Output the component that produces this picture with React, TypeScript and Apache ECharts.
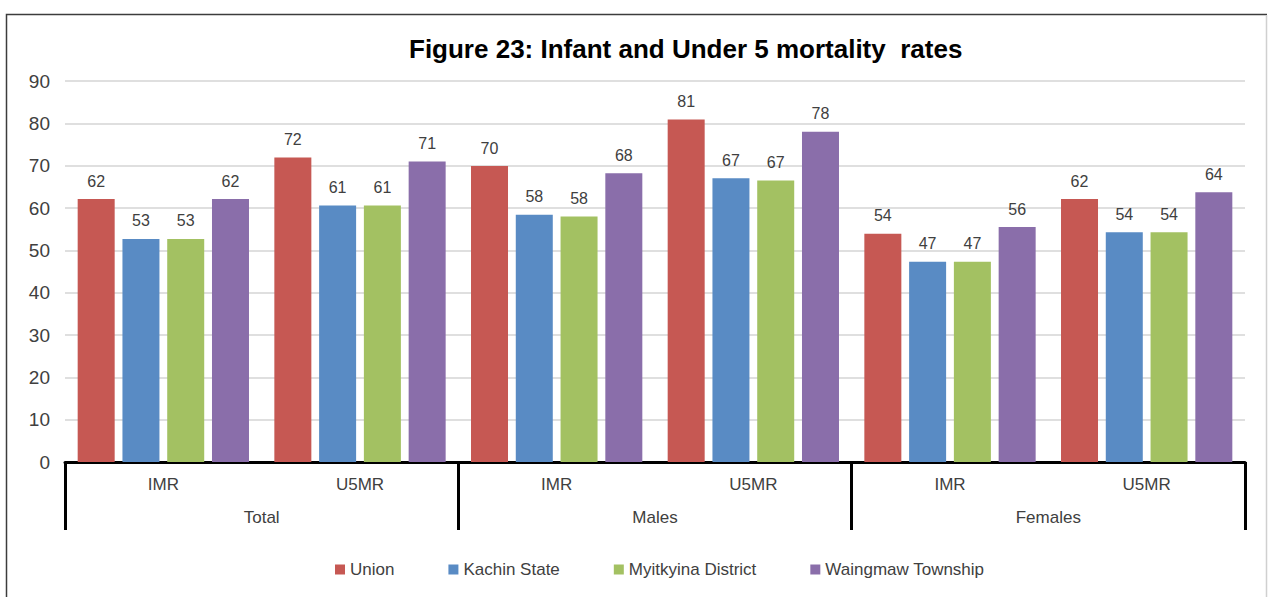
import { useEffect, useRef } from "react";
import * as echarts from "echarts";

const measures = ["IMR", "U5MR", "IMR", "U5MR", "IMR", "U5MR"];
const groups = ["Total", "Males", "Females"];
const seriesNames = ["Union", "Kachin State", "Myitkyina District", "Waingmaw Township"];
const union = [62.1, 71.9, 69.9, 80.9, 53.9, 62.1];
const kachin = [52.7, 60.6, 58.4, 67.0, 47.3, 54.3];
const myitkyina = [52.7, 60.6, 58.0, 66.5, 47.3, 54.3];
const waingmaw = [62.1, 71.0, 68.2, 78.0, 55.5, 63.7];
const colors = ["#C65853", "#598BC4", "#A3C162", "#8A6EAA"];
const titleText = "Figure 23: Infant and Under 5 mortality  rates";

const FONT = "'Liberation Sans', Arial, sans-serif";

export default function App() {
  const ref = useRef<HTMLDivElement>(null);
  useEffect(() => {
    document.body.style.margin = "0";
    const chart = echarts.init(ref.current!, null, { renderer: "svg" });
    const values = [union, kachin, myitkyina, waingmaw];
    chart.setOption({
      animation: false,
      backgroundColor: "#ffffff",
      textStyle: { fontFamily: FONT },
      title: {
        text: titleText,
        left: 404,
        top: 31,
        textStyle: { fontSize: 26, fontWeight: "bold", color: "#000", fontFamily: FONT },
      },
      graphic: [
        {
          type: "polyline",
          shape: { points: [[6.5, 597], [6.5, 14.5], [1267, 14.5]] },
          style: { stroke: "#3c3c3c", lineWidth: 1.5, fill: "none" },
          silent: true,
        },
        {
          type: "line",
          shape: { x1: 1266.5, y1: 15, x2: 1266.5, y2: 597 },
          style: { stroke: "#d0d0d0", lineWidth: 1.5 },
          silent: true,
        },
      ],
      legend: {
        data: seriesNames,
        left: 330,
        top: 556,
        itemWidth: 10,
        itemHeight: 10,
        itemGap: 54,
        icon: "rect",
        textStyle: { fontSize: 17, color: "#404040", fontFamily: FONT },
      },
      grid: { left: 65, right: 25, top: 81, bottom: 135 },
      xAxis: [
        {
          type: "category",
          data: measures,
          position: "bottom",
          axisLine: { show: true, lineStyle: { color: "#000", width: 3 } },
          axisTick: { show: false },
          axisLabel: { interval: 0, margin: 14, fontSize: 17, color: "#404040", fontFamily: FONT },
        },
        {
          type: "category",
          data: groups,
          position: "bottom",
          axisLine: { show: false },
          axisTick: { show: true, length: 68, lineStyle: { color: "#000", width: 3 } },
          axisLabel: { interval: 0, margin: 47, fontSize: 17, color: "#404040", fontFamily: FONT },
          splitLine: { show: false },
        },
      ],
      yAxis: {
        type: "value",
        min: 0,
        max: 90,
        interval: 10,
        axisLine: { show: false },
        axisTick: { show: false },
        axisLabel: { fontSize: 19, color: "#404040", margin: 15, fontFamily: FONT },
        splitLine: { lineStyle: { color: "#d4d4d4", width: 1.5 } },
      },
      series: seriesNames.map((name, i) => ({
        name,
        type: "bar",
        xAxisIndex: 0,
        data: values[i],
        barWidth: 37,
        barGap: "21%",
        itemStyle: { color: colors[i] },
        label: {
          show: true,
          position: "top",
          distance: 10,
          fontSize: 16,
          color: "#404040",
          fontFamily: FONT,
          formatter: (p: any) => String(Math.round(p.value)),
        },
      })),
    });
    return () => chart.dispose();
  }, []);
  return <div ref={ref} style={{ width: 1270, height: 597 }} />;
}
